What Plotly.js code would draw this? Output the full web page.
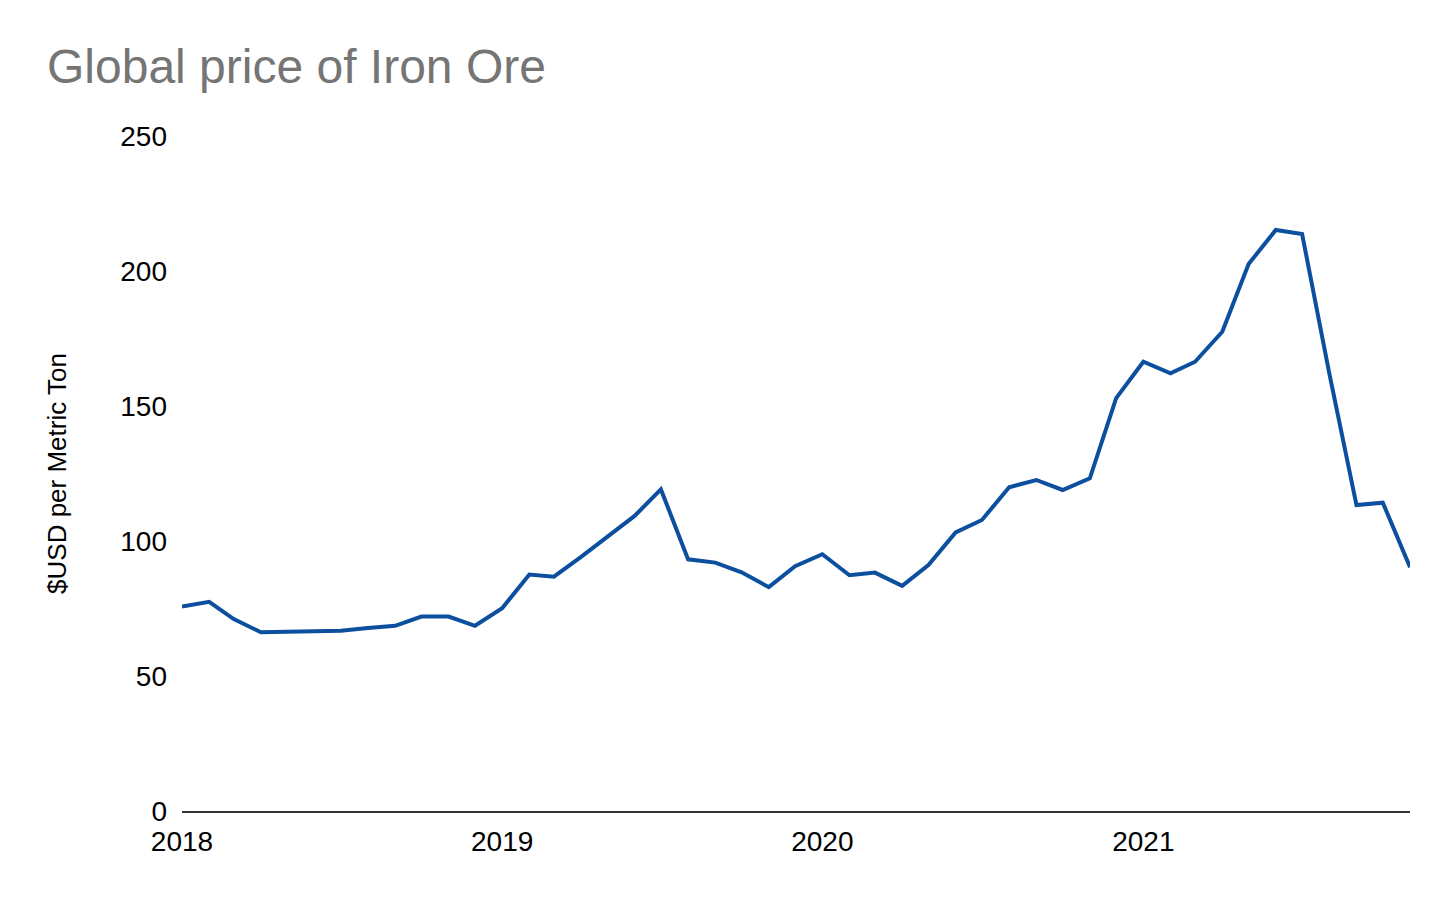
<!DOCTYPE html>
<html>
<head>
<meta charset="utf-8">
<script src="https://cdn.plot.ly/plotly-3.0.1.min.js"></script>
<style>
  html, body { margin: 0; padding: 0; background: #ffffff; }
  #graph { width: 1456px; height: 900px; }
</style>
</head>
<body>
<div id="graph"></div>
<script>
// monthly iron ore price, first of each month
var months = [
    '2018-01-01', '2018-02-01', '2018-03-01', '2018-04-01', '2018-05-01', '2018-06-01',
    '2018-07-01', '2018-08-01', '2018-09-01', '2018-10-01', '2018-11-01', '2018-12-01',
    '2019-01-01', '2019-02-01', '2019-03-01', '2019-04-01', '2019-05-01', '2019-06-01',
    '2019-07-01', '2019-08-01', '2019-09-01', '2019-10-01', '2019-11-01', '2019-12-01',
    '2020-01-01', '2020-02-01', '2020-03-01', '2020-04-01', '2020-05-01', '2020-06-01',
    '2020-07-01', '2020-08-01', '2020-09-01', '2020-10-01', '2020-11-01', '2020-12-01',
    '2021-01-01', '2021-02-01', '2021-03-01', '2021-04-01', '2021-05-01', '2021-06-01',
    '2021-07-01', '2021-08-01', '2021-09-01', '2021-10-01', '2021-11-01'
];
var price = [
    75.7, 77.5, 71.1, 66.2, 66.4, 66.6, 66.8, 67.8, 68.6, 72.0, 72.0, 68.6,
    75.1, 87.6, 86.8, 94.1, 101.6, 109.3, 119.1, 93.2, 92.0, 88.4, 82.9, 90.7,
    95.1, 87.3, 88.3, 83.4, 91.1, 103.2, 107.8, 119.9, 122.6, 118.9, 123.2, 152.9,
    166.4, 162.1, 166.4, 177.5, 202.6, 215.2, 213.7, 162.1, 113.3, 114.2, 90.3
];
var yTicks = [0, 50, 100, 150, 200, 250];
var xTicks = ['2018-01-01', '2019-01-01', '2020-01-01', '2021-01-01'];
var xTickText = ['2018', '2019', '2020', '2021'];

var font = 'Arial, "Liberation Sans", sans-serif';

var trace = {
    x: months,
    y: price,
    type: 'scatter',
    mode: 'lines',
    line: { color: '#0c4f9f', width: 4 },
    hoverinfo: 'x+y'
};

var layout = {
    width: 1456,
    height: 900,
    paper_bgcolor: '#ffffff',
    plot_bgcolor: '#ffffff',
    showlegend: false,
    margin: { l: 182, r: 46, t: 136, b: 89, pad: 0 },
    font: { family: font, color: '#000000', size: 28 },
    title: {
        text: 'Global price of Iron Ore',
        font: { family: font, size: 48, color: '#757575' },
        x: 47 / 1456, xref: 'container', xanchor: 'left',
        y: 1 - 66 / 900, yref: 'container', yanchor: 'middle',
        pad: { t: 0, l: 0, r: 0, b: 0 },
        automargin: false
    },
    xaxis: {
        type: 'date',
        range: ['2018-01-01', '2021-11-01'],
        tickvals: xTicks,
        ticktext: xTickText,
        showgrid: false,
        zeroline: false,
        showline: true,
        linecolor: '#333333',
        linewidth: 2,
        ticks: '',
        ticklabelstandoff: 4,
        tickfont: { family: font, size: 28, color: '#000000' },
        fixedrange: true
    },
    yaxis: {
        range: [0, 250],
        tickvals: yTicks,
        showgrid: false,
        zeroline: false,
        showline: false,
        ticks: '',
        ticklabelstandoff: 14,
        tickfont: { family: font, size: 28, color: '#000000' },
        title: {
            text: '$USD per Metric Ton',
            font: { family: font, size: 26, color: '#000000' },
            standoff: 46
        },
        fixedrange: true
    }
};

Plotly.newPlot('graph', [trace], layout, { displayModeBar: false, staticPlot: true });
</script>
</body>
</html>
